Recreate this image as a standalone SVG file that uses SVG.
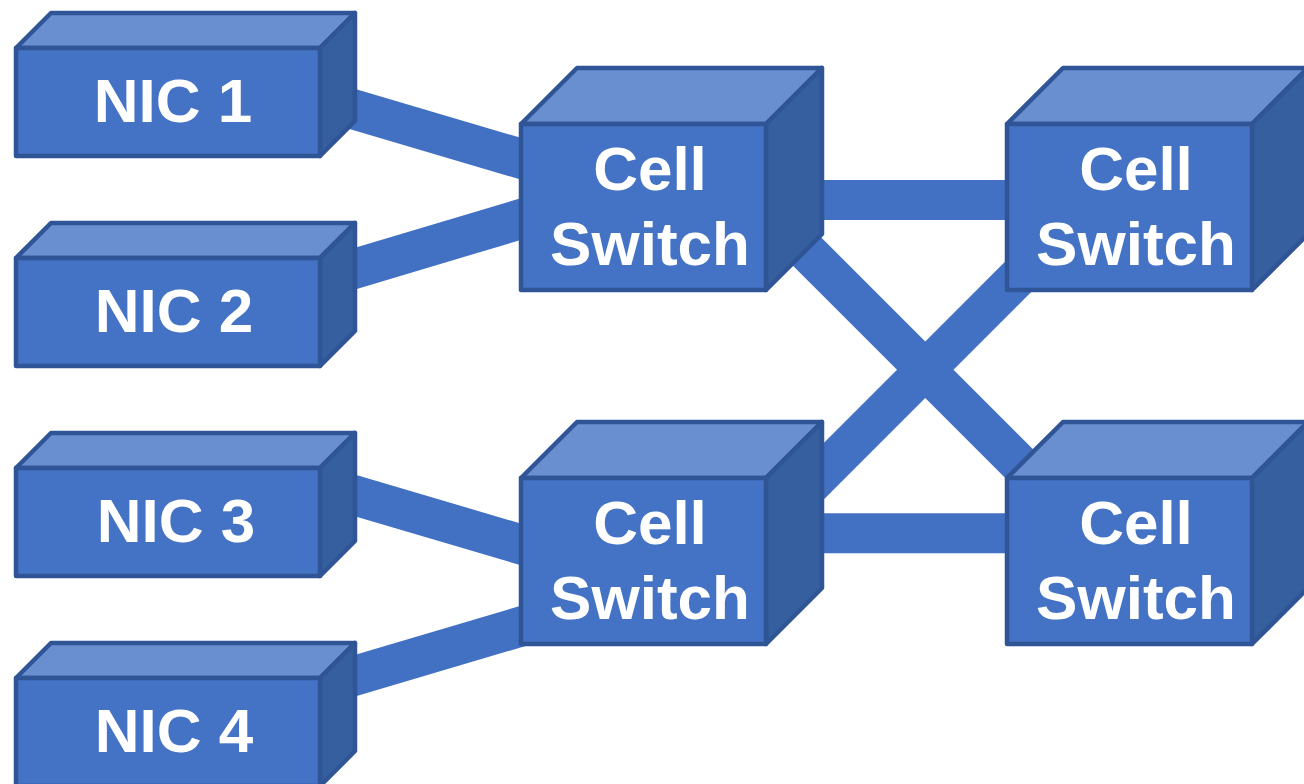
<svg xmlns="http://www.w3.org/2000/svg" width="1304" height="784" viewBox="0 0 1304 784">
  <style>
    .link { stroke: #4270C3; stroke-width: 40; fill: none; stroke-linecap: butt; }
    .front { fill: #4472C4; }
    .top { fill: #6A8FD0; }
    .side { fill: #365F9F; }
    .edge { stroke: #2F5597; stroke-width: 4.5; stroke-linejoin: round; }
    .label { font-family: "Liberation Sans", Arial, Helvetica, sans-serif; font-weight: bold; font-size: 62px; fill: #FFFFFF; text-anchor: middle; }
  </style>
  <rect width="1304" height="784" fill="#FFFFFF"/>

  <!-- links run behind the boxes -->
  <g id="connectors">
    <line class="link" x1="250" y1="78.6" x2="620" y2="188.1"/>
    <line class="link" x1="250" y1="300" x2="620" y2="189.4"/>
    <line class="link" x1="250" y1="464.5" x2="620" y2="573.7"/>
    <line class="link" x1="250" y1="706.7" x2="620" y2="597.2"/>
    <line class="link" x1="700" y1="200" x2="1100" y2="200"/>
    <line class="link" x1="700" y1="533.3" x2="1100" y2="533.3"/>
    <line class="link" x1="740" y1="184.5" x2="1090" y2="534.5"/>
    <line class="link" x1="740" y1="555" x2="1090" y2="205"/>
  </g>

  <!-- NIC boxes: front 304x108, depth 35 -->
  <g id="nic1">
    <path class="top edge" d="M16,48 L51,13 L355,13 L320,48 Z"/>
    <path class="side edge" d="M320,48 L355,13 L355,121 L320,156 Z"/>
    <rect class="front edge" x="16" y="48" width="304" height="108"/>
    <text class="label" x="173" y="122">NIC 1</text>
  </g>
  <g id="nic2">
    <path class="top edge" d="M16,258 L51,223 L355,223 L320,258 Z"/>
    <path class="side edge" d="M320,258 L355,223 L355,331 L320,366 Z"/>
    <rect class="front edge" x="16" y="258" width="304" height="108"/>
    <text class="label" x="174" y="332">NIC 2</text>
  </g>
  <g id="nic3">
    <path class="top edge" d="M16,468 L51,433 L355,433 L320,468 Z"/>
    <path class="side edge" d="M320,468 L355,433 L355,541 L320,576 Z"/>
    <rect class="front edge" x="16" y="468" width="304" height="108"/>
    <text class="label" x="176" y="542">NIC 3</text>
  </g>
  <g id="nic4">
    <path class="top edge" d="M16,678 L51,643 L355,643 L320,678 Z"/>
    <path class="side edge" d="M320,678 L355,643 L355,751 L320,786 Z"/>
    <rect class="front edge" x="16" y="678" width="304" height="108"/>
    <text class="label" x="174" y="752">NIC 4</text>
  </g>

  <!-- cell switches: front 245x166, depth 56 -->
  <g id="switch1">
    <path class="top edge" d="M521,124 L577,68 L822,68 L766,124 Z"/>
    <path class="side edge" d="M766,124 L822,68 L822,234 L766,290 Z"/>
    <rect class="front edge" x="521" y="124" width="245" height="166"/>
    <text class="label" x="650" y="190">Cell</text>
    <text class="label" x="650" y="265">Switch</text>
  </g>
  <g id="switch2">
    <path class="top edge" d="M521,478 L577,422 L822,422 L766,478 Z"/>
    <path class="side edge" d="M766,478 L822,422 L822,588 L766,644 Z"/>
    <rect class="front edge" x="521" y="478" width="245" height="166"/>
    <text class="label" x="650" y="544">Cell</text>
    <text class="label" x="650" y="619">Switch</text>
  </g>
  <g id="switch3">
    <path class="top edge" d="M1007,124 L1063,68 L1308,68 L1252,124 Z"/>
    <path class="side edge" d="M1252,124 L1308,68 L1308,234 L1252,290 Z"/>
    <rect class="front edge" x="1007" y="124" width="245" height="166"/>
    <text class="label" x="1136" y="190">Cell</text>
    <text class="label" x="1136" y="265">Switch</text>
  </g>
  <g id="switch4">
    <path class="top edge" d="M1007,478 L1063,422 L1308,422 L1252,478 Z"/>
    <path class="side edge" d="M1252,478 L1308,422 L1308,588 L1252,644 Z"/>
    <rect class="front edge" x="1007" y="478" width="245" height="166"/>
    <text class="label" x="1136" y="544">Cell</text>
    <text class="label" x="1136" y="619">Switch</text>
  </g>
</svg>
